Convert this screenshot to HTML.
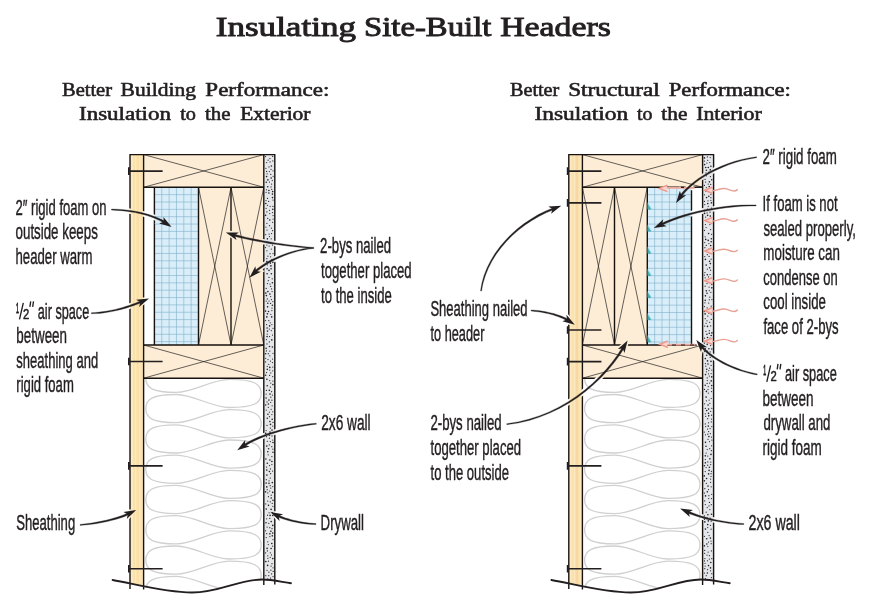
<!DOCTYPE html>
<html><head><meta charset="utf-8"><title>Insulating Site-Built Headers</title>
<style>html,body{margin:0;padding:0;background:#fff}svg{display:block}.lb,.t{opacity:.999}text{font-family:"Liberation Sans",sans-serif;fill:#231f20}.t text{font-family:"Liberation Serif",serif;stroke:#231f20;stroke-width:0.55px}.t .big{stroke-width:0.9px}.lb text{stroke:#231f20;stroke-width:0.45px}</style></head><body>
<svg width="874" height="616" viewBox="0 0 874 616">
<rect width="874" height="616" fill="#fff"/>
<defs><mask id="hm" maskUnits="userSpaceOnUse" x="0" y="0" width="874" height="616"><rect width="874" height="616" fill="#fff"/><path d="M111.5,209.6C135.0,210.0 155.0,216.0 164.9,222.6M91.4,313.2C110.0,313.0 130.0,306.5 141.6,301.5M80.1,524.9C98.0,523.5 118.0,519.0 129.0,513.5M313.7,247.9C285.0,246.0 250.0,240.0 233.4,234.9M313.7,247.9C290.0,250.0 265.0,262.0 255.0,272.0M316.3,423.7C288.0,426.5 258.0,436.0 243.8,445.7M316.0,524.1C300.0,523.5 284.0,519.0 277.4,515.6M531.1,310.5C548.0,311.5 562.0,316.5 568.1,320.4M481.0,291.0C486.0,254.0 518.0,222.0 553.8,208.6M506.8,424.2C560.0,418.0 602.0,383.0 623.5,347.4M756.6,157.2C722.0,162.0 692.0,180.0 680.6,196.5M756.1,205.4C722.0,205.0 685.0,213.0 661.0,224.6M757.2,374.4C732.0,370.0 710.0,357.0 701.3,346.2M743.8,524.1C722.0,523.0 700.0,517.5 687.4,511.7" stroke="#000" stroke-width="5.4" fill="none"/><path d="M171.6,227.0L159.1,223.4L163.7,221.8L163.4,216.9ZM149.0,298.4L139.1,306.9L140.3,302.1L136.1,299.7ZM136.2,510.0L126.8,519.0L127.8,514.2L123.4,512.0ZM225.8,232.5L238.8,232.4L234.8,235.3L236.5,239.9ZM249.4,277.7L255.4,266.2L256.0,271.0L260.9,271.7ZM237.2,450.2L245.2,440.0L245.0,444.9L249.6,446.4ZM270.3,512.0L283.1,514.2L278.7,516.3L279.6,521.1ZM574.8,324.7L562.3,321.3L566.9,319.6L566.5,314.7ZM561.3,205.8L551.1,213.8L552.5,209.1L548.3,206.5ZM627.6,340.5L624.5,353.1L622.7,348.6L617.9,349.1ZM676.0,203.1L679.9,190.7L681.4,195.4L686.3,195.1ZM653.8,228.1L663.3,219.2L662.3,224.0L666.7,226.2ZM696.3,340.0L707.1,347.2L702.2,347.3L701.0,352.1ZM680.1,508.4L693.0,510.0L688.7,512.3L689.8,517.1Z" fill="#000" stroke="#000" stroke-width="3"/></mask></defs>
<clipPath id="clip0"><path d="M112.6,580 C135.0,584 165.0,592.5 192.0,592.5 C220.0,592.5 238.0,579.5 262.0,579.5 C272.0,579.5 282.0,582 291.0,583.2 L291.0,100 L112.6,100 Z"/></clipPath>
<g clip-path="url(#clip0)">
<rect x="130.0" y="154.6" width="13.6" height="445.4" fill="#fdeac3"/>
<rect x="133.0" y="154.6" width="2.0" height="445.4" fill="#fbe1aa"/>
<rect x="136.4" y="154.6" width="2.8" height="445.4" fill="#fbdfa6"/>
<rect x="140.2" y="154.6" width="2.2" height="445.4" fill="#fbe2ad"/>
<rect x="263.8" y="154.6" width="11.0" height="445.4" fill="#e5e7eb"/>
<path d="M272.5,359.1h0M269.4,412.1h0M270.3,501.8h0M266.2,288.4h0M270.8,174.4h0M273.0,576.6h0M266.7,162.6h0M269.5,182.1h0M265.7,358.3h0M268.8,523.3h0M269.3,444.9h0M269.0,277.4h0M271.9,464.6h0M267.9,256.2h0M271.3,330.6h0M271.9,324.6h0M265.5,247.5h0M266.1,430.5h0M266.2,301.1h0M272.8,486.5h0M271.6,233.5h0M269.8,351.1h0M266.5,436.7h0M266.4,339.5h0M272.9,506.3h0M267.8,541.8h0M272.0,435.9h0M266.3,587.3h0M271.4,299.5h0M266.2,410.1h0M268.3,353.7h0M272.8,367.0h0M266.9,223.3h0M272.4,512.6h0M271.1,566.0h0M267.0,570.3h0M268.7,201.4h0M265.8,575.7h0M267.5,515.2h0M270.0,284.0h0M269.8,527.7h0M272.5,245.0h0M269.8,213.5h0M268.3,544.5h0M266.6,171.4h0M265.6,552.9h0M267.9,591.7h0M266.1,394.1h0M271.5,554.9h0M268.2,454.8h0M272.1,405.8h0M270.2,322.8h0M273.0,539.6h0M271.1,409.3h0M270.8,372.9h0M270.2,557.3h0M267.0,230.0h0M267.0,343.9h0M266.5,372.5h0M270.9,570.2h0M273.0,353.3h0M267.8,501.1h0M269.0,166.9h0M271.8,259.6h0M270.3,441.6h0M271.6,573.9h0M269.1,234.0h0M265.6,361.9h0M270.8,383.0h0M270.2,485.7h0M272.6,471.0h0M270.3,552.8h0M272.2,503.4h0M270.4,468.9h0M273.0,582.1h0M272.0,308.0h0M269.7,491.0h0M271.6,184.0h0M271.9,456.6h0M272.7,370.8h0M271.9,400.2h0M267.1,527.0h0M269.6,375.4h0M272.9,381.0h0M269.8,370.1h0M269.6,336.5h0M267.0,425.4h0M272.5,212.5h0M270.7,296.5h0M267.4,242.3h0M269.5,225.7h0M270.4,387.0h0M267.9,558.3h0M267.5,198.4h0M272.9,206.4h0M269.7,380.5h0M266.9,245.0h0M271.9,587.8h0M268.0,359.6h0M270.1,161.9h0M271.2,495.2h0M271.0,186.9h0M270.4,428.1h0M270.6,303.4h0M270.8,488.1h0M270.2,478.1h0M267.4,550.9h0M271.7,189.3h0M269.5,416.7h0M268.3,280.7h0M273.0,567.8h0M268.8,364.3h0M270.1,206.3h0M269.5,210.3h0M273.1,571.4h0M270.7,402.3h0M271.2,238.8h0M267.4,583.2h0M266.1,208.3h0M271.3,249.0h0M266.2,537.6h0M266.1,192.3h0M270.7,286.4h0M267.7,218.4h0M271.6,288.9h0M272.6,546.1h0M267.0,401.9h0M271.6,391.7h0M272.2,278.8h0M272.8,440.0h0M267.2,489.7h0M272.9,449.2h0M272.5,335.1h0M271.8,446.7h0M269.5,465.6h0M267.7,578.8h0M266.9,250.8h0M270.0,253.7h0M272.8,411.8h0M266.7,518.8h0M265.6,320.5h0M269.8,355.8h0M271.9,414.5h0M269.4,438.2h0M272.4,395.1h0M266.6,467.1h0M265.7,234.6h0M266.6,324.5h0M266.4,350.9h0M269.3,329.0h0M266.4,390.4h0M272.7,156.4h0M269.1,246.1h0M271.9,310.5h0M266.9,258.7h0M273.0,170.8h0M268.4,561.2h0M271.4,228.1h0M269.3,171.5h0M269.9,536.6h0M273.0,219.1h0M269.0,480.8h0M273.0,422.4h0M268.4,496.7h0M270.8,314.3h0M267.1,173.8h0M270.8,397.2h0M268.3,407.3h0M269.8,518.4h0M272.9,301.5h0M267.3,264.8h0M266.7,533.7h0M270.6,256.8h0M267.2,366.3h0M272.8,160.9h0M273.0,200.1h0M268.8,575.7h0M267.2,334.0h0M272.6,222.3h0M269.1,588.9h0M266.9,211.9h0M268.9,572.2h0M273.0,328.3h0M265.6,530.8h0M269.9,158.5h0M270.7,584.9h0M268.8,320.7h0M266.3,479.7h0M272.0,528.7h0M272.7,376.5h0M269.5,236.6h0M272.0,563.7h0M267.3,441.3h0M269.1,512.8h0M265.9,227.1h0M269.0,301.0h0M269.3,341.9h0M272.1,291.5h0M272.7,426.1h0M267.3,298.9h0M272.3,180.5h0M267.8,492.9h0M273.0,215.6h0M273.0,253.5h0M266.0,200.5h0M267.4,283.5h0M267.5,205.3h0M265.8,503.9h0M265.9,168.3h0M268.1,160.2h0M265.5,156.5h0M270.6,578.0h0M270.6,473.7h0M273.1,176.3h0M270.5,361.0h0M267.8,555.8h0M271.0,169.3h0M266.4,189.8h0M272.4,362.6h0M272.6,230.7h0" stroke="#262428" stroke-width="1.25" stroke-linecap="round" fill="none"/>
<path d="M268.9,400.1h0M266.9,379.2h0M266.2,509.0h0M270.5,424.4h0M266.9,261.6h0M269.4,435.2h0M273.1,590.1h0M267.7,186.7h0M272.8,525.4h0M271.4,273.7h0M266.3,182.2h0M266.9,475.1h0M267.1,273.7h0M267.1,328.0h0M267.1,268.7h0M267.3,418.2h0M269.9,533.8h0M267.4,238.8h0M272.2,419.2h0M267.3,463.2h0M266.8,470.1h0M266.8,316.9h0M273.0,442.5h0M265.7,433.4h0M271.1,548.5h0M272.3,535.8h0M269.9,421.5h0M266.1,483.1h0M267.8,451.7h0M269.9,294.1h0M267.1,336.6h0M265.6,215.3h0M266.6,176.6h0M270.7,243.0h0M267.6,306.8h0M272.4,194.1h0M268.4,404.0h0M267.1,548.4h0M266.1,348.3h0M269.4,471.5h0M267.2,385.7h0M272.9,384.6h0M268.5,505.3h0M272.8,558.6h0M271.4,166.0h0M269.5,346.5h0M271.1,509.4h0M271.8,339.9h0M269.8,220.0h0M272.5,197.6h0M270.9,531.3h0M265.6,311.1h0M269.6,325.9h0M267.5,331.1h0M265.8,561.6h0M271.2,178.0h0M272.9,262.3h0M269.0,270.4h0M270.0,432.1h0M271.2,521.6h0M271.7,316.9h0M269.8,367.4h0M272.4,347.0h0M267.4,313.8h0M266.8,486.9h0M270.4,263.1h0M269.3,390.3h0M271.8,543.5h0M265.8,203.5h0M272.4,305.2h0M267.9,291.6h0M267.8,303.2h0M273.0,500.3h0M269.9,460.0h0M267.9,179.9h0M265.9,459.0h0M268.5,311.5h0M268.9,190.5h0M269.0,483.3h0M267.3,369.3h0M265.8,293.1h0M265.8,590.3h0M273.0,452.2h0M266.8,446.1h0M272.7,492.4h0M272.8,515.5h0M270.9,265.9h0M267.6,565.4h0M265.6,375.2h0M272.0,430.1h0M266.1,398.0h0M270.0,394.1h0M271.1,268.7h0M266.4,295.6h0M269.8,581.4h0M265.7,405.0h0M265.6,491.8h0M272.7,191.6h0M268.9,193.0h0M272.4,282.7h0M272.8,209.3h0M268.6,448.7h0M266.0,522.7h0M267.9,414.2h0M271.9,461.5h0M271.2,498.0h0M270.1,515.4h0M272.3,482.6h0M272.7,533.1h0M265.6,353.7h0" stroke="#262428" stroke-width="1.65" stroke-linecap="round" fill="none"/>
<rect x="143.6" y="154.6" width="120.2" height="32.7" fill="#fdedd6"/>
<rect x="143.6" y="345.0" width="120.2" height="33.2" fill="#fdedd6"/>
<path d="M145.8,378.3c0,9.3 6.1,14.1 30.5,14.1c17.5,0 35.4,-13 52.9,-13c25.6,0 32,4.8 32,14.1c0,9.3 -6.4,14 -32,14c-17.5,0 -35.4,-13 -52.9,-13c-24.4,0 -30.5,4.8 -30.5,14.1c0,9.3 6.1,14.1 30.5,14.1c17.5,0 35.4,-13 52.9,-13c25.6,0 32,4.8 32,14.1c0,9.3 -6.4,14 -32,14c-17.5,0 -35.4,-13 -52.9,-13c-24.4,0 -30.5,4.8 -30.5,14.1c0,9.3 6.1,14.1 30.5,14.1c17.5,0 35.4,-13 52.9,-13c25.6,0 32,4.8 32,14.1c0,9.3 -6.4,14 -32,14c-17.5,0 -35.4,-13 -52.9,-13c-24.4,0 -30.5,4.8 -30.5,14.1c0,9.3 6.1,14.1 30.5,14.1c17.5,0 35.4,-13 52.9,-13c25.6,0 32,4.8 32,14.1c0,9.3 -6.4,14 -32,14c-17.5,0 -35.4,-13 -52.9,-13c-24.4,0 -30.5,4.8 -30.5,14.1c0,9.3 6.1,14.1 30.5,14.1c17.5,0 35.4,-13 52.9,-13c25.6,0 32,4.8 32,14.1c0,9.3 -6.4,14 -32,14c-17.5,0 -35.4,-13 -52.9,-13c-24.4,0 -30.5,4.8 -30.5,14.1c0,9.3 6.1,14.1 30.5,14.1c17.5,0 35.4,-13 52.9,-13c25.6,0 32,4.8 32,14.1c0,9.3 -6.4,14 -32,14c-17.5,0 -35.4,-13 -52.9,-13c-24.4,0 -30.5,4.8 -30.5,14.1c0,9.3 6.1,14.1 30.5,14.1c17.5,0 35.4,-13 52.9,-13c25.6,0 32,4.8 32,14.1c0,9.3 -6.4,14 -32,14c-17.5,0 -35.4,-13 -52.9,-13c-24.4,0 -30.5,4.8 -30.5,14.1c0,9.3 6.1,14.1 30.5,14.1c17.5,0 35.4,-13 52.9,-13c25.6,0 32,4.8 32,14.1c0,9.3 -6.4,14 -32,14c-17.5,0 -35.4,-13 -52.9,-13c-24.4,0 -30.5,4.8 -30.5,14.1" fill="none" stroke="#d0d0d0" stroke-width="1.3"/>
</g>
<rect x="198.5" y="187.3" width="65.3" height="157.7" fill="#fdedd6"/>
<rect x="154.4" y="187.3" width="44.1" height="157.7" fill="#d9eef9"/>
<path d="M161.75,187.3V345.0M169.10,187.3V345.0M176.45,187.3V345.0M183.80,187.3V345.0M191.15,187.3V345.0M154.4,194.65H198.5M154.4,202.00H198.5M154.4,209.35H198.5M154.4,216.70H198.5M154.4,224.05H198.5M154.4,231.40H198.5M154.4,238.75H198.5M154.4,246.10H198.5M154.4,253.45H198.5M154.4,260.80H198.5M154.4,268.15H198.5M154.4,275.50H198.5M154.4,282.85H198.5M154.4,290.20H198.5M154.4,297.55H198.5M154.4,304.90H198.5M154.4,312.25H198.5M154.4,319.60H198.5M154.4,326.95H198.5M154.4,334.30H198.5M154.4,341.65H198.5" stroke="#7faeca" stroke-width="0.6" fill="none"/>
<path d="M143.6,154.6L263.8,187.3M263.8,154.6L143.6,187.3M143.6,345.0L263.8,378.2M263.8,345.0L143.6,378.2M198.5,187.3L231.0,345.0M231.0,187.3L198.5,345.0M231.0,187.3L263.8,345.0M263.8,187.3L231.0,345.0" stroke="#231f20" stroke-width="0.7" fill="none"/>
<path d="M130.0,154.6V589M143.6,154.6V589.5M263.8,154.6V585M274.8,154.6V584.5M129.4,154.6H275.4M143.6,187.3H263.8M143.6,345.0H263.8M143.6,378.2H263.8M231.0,187.3V345.0M154.4,187.3V345.0M198.5,187.3V345.0" stroke="#17120e" stroke-width="1.4" fill="none" mask="url(#hm)"/>
<path d="M112.6,580 C135.0,584 165.0,592.5 192.0,592.5 C220.0,592.5 238.0,579.5 262.0,579.5 C272.0,579.5 282.0,582 291.0,583.2" stroke="#231f20" stroke-width="1.9" fill="none" stroke-linecap="round"/>
<path d="M128.6,171.1H162.6M128.6,361.5H162.6M128.6,465.9H162.6M128.6,568.7H162.6" stroke="#231f20" stroke-width="1.6" fill="none"/>
<path d="M128.9,167.3V174.9M128.9,357.7V365.3M128.9,462.1V469.7M128.9,564.9V572.5" stroke="#231f20" stroke-width="1.8" fill="none"/>
<clipPath id="clip438"><path d="M551.4,580 C573.8,584 603.8,592.5 630.8,592.5 C658.8,592.5 676.8,579.5 700.8,579.5 C710.8,579.5 720.8,582 729.8,583.2 L729.8,100 L551.4,100 Z"/></clipPath>
<g clip-path="url(#clip438)">
<rect x="568.8" y="154.6" width="13.6" height="445.4" fill="#fdeac3"/>
<rect x="571.3" y="154.6" width="2.8" height="445.4" fill="#fbe2ad"/>
<rect x="575.4" y="154.6" width="3.2" height="445.4" fill="#f7d8a2"/>
<rect x="578.6" y="154.6" width="1.9" height="445.4" fill="#fbe3b3"/>
<rect x="702.6" y="154.6" width="11.0" height="445.4" fill="#e5e7eb"/>
<path d="M707.2,449.6h0M708.7,249.2h0M707.7,418.7h0M711.5,391.6h0M709.7,322.3h0M707.0,283.5h0M705.1,179.4h0M709.6,368.2h0M708.5,489.5h0M707.3,269.0h0M706.2,512.2h0M707.4,156.9h0M705.0,588.7h0M705.1,566.1h0M707.0,320.8h0M711.8,426.6h0M710.2,357.4h0M710.6,345.6h0M711.5,419.0h0M711.0,476.3h0M711.2,398.3h0M708.4,373.8h0M705.6,217.1h0M704.4,201.4h0M708.7,303.1h0M707.8,532.3h0M707.4,251.4h0M705.4,434.8h0M707.1,340.4h0M709.1,287.1h0M706.1,227.6h0M705.0,563.3h0M707.7,527.6h0M708.1,552.0h0M710.6,342.4h0M705.6,182.0h0M708.6,431.6h0M711.4,577.5h0M705.3,459.5h0M705.1,236.8h0M711.9,440.1h0M709.3,376.0h0M709.3,330.7h0M711.2,314.5h0M710.4,525.3h0M711.2,588.3h0M711.4,191.6h0M709.6,308.9h0M710.0,212.2h0M708.0,200.8h0M710.8,462.0h0M708.5,276.9h0M704.8,242.6h0M711.5,388.1h0M711.4,550.9h0M708.0,389.5h0M709.9,224.5h0M707.8,456.0h0M709.0,505.9h0M705.3,423.9h0M707.1,307.8h0M707.2,377.9h0M710.6,482.3h0M708.5,422.8h0M710.6,270.2h0M710.9,200.3h0M711.8,585.0h0M704.8,568.7h0M706.4,400.8h0M706.3,187.5h0M706.9,163.1h0M711.5,498.5h0M707.7,220.8h0M706.0,172.9h0M704.9,247.7h0M707.1,517.9h0M704.4,230.4h0M711.4,471.3h0M710.9,292.3h0M704.4,536.3h0M705.1,286.2h0M707.7,160.3h0M710.7,325.9h0M709.1,535.5h0M711.3,581.5h0M705.4,224.5h0M711.1,373.6h0M706.1,453.1h0M709.9,403.3h0M704.7,550.4h0M705.3,413.8h0M706.4,175.8h0M707.5,209.2h0M704.4,306.5h0M711.4,450.7h0M705.2,471.5h0M710.1,274.5h0M709.1,256.4h0M710.6,570.8h0M710.3,433.6h0M704.4,515.9h0M705.3,408.4h0M711.8,558.7h0M704.7,500.9h0M704.3,275.0h0M708.2,206.3h0M705.9,331.3h0M707.3,310.2h0M709.8,297.2h0M704.4,185.4h0M708.5,542.1h0M710.7,279.8h0M709.5,502.4h0M704.4,194.8h0M711.1,529.2h0M711.5,208.0h0M711.2,543.7h0M710.9,197.7h0M710.9,253.4h0M710.6,229.6h0M708.3,393.1h0M710.7,411.3h0M707.0,555.1h0M707.8,316.1h0M709.4,555.7h0M706.2,575.7h0M704.5,560.9h0M708.9,243.6h0M706.5,371.8h0M706.1,323.3h0M709.9,509.6h0M706.3,483.4h0M709.8,162.6h0M710.9,194.5h0M707.6,569.7h0M710.4,176.7h0M704.7,326.0h0M709.6,383.1h0M704.8,204.5h0M711.2,486.8h0M709.2,290.5h0M705.8,366.2h0M704.9,272.6h0M708.9,495.7h0M704.6,338.2h0M710.6,479.0h0M708.2,386.5h0M704.8,488.7h0M710.1,351.9h0M709.3,559.1h0M711.2,306.2h0M707.7,465.2h0M710.2,157.5h0M711.6,445.8h0M707.6,429.1h0M710.1,428.5h0M707.3,380.6h0M705.1,277.8h0M709.7,448.7h0M709.1,400.0h0M711.7,494.3h0M711.2,521.2h0M711.8,573.7h0M706.1,467.5h0M710.1,518.2h0M708.7,498.6h0M708.5,583.6h0M707.8,546.6h0M705.3,504.6h0M711.0,541.1h0M704.4,493.1h0M711.1,365.4h0M707.8,461.9h0M704.5,519.3h0M704.4,389.4h0M711.9,299.5h0M707.1,212.9h0M705.7,426.5h0M711.8,370.0h0M707.2,507.6h0M708.4,580.4h0M709.5,441.6h0M704.6,351.5h0M710.7,184.4h0M708.0,439.3h0M705.7,416.3h0M711.8,249.7h0M711.5,437.0h0M706.3,245.4h0M707.3,254.7h0M704.4,343.2h0M708.2,184.0h0M705.2,318.7h0M710.1,338.2h0M711.1,259.2h0M711.6,188.6h0M704.6,403.8h0M709.7,354.8h0M704.9,302.8h0M704.4,573.1h0M705.4,363.6h0M707.8,434.2h0M705.4,578.5h0M707.1,383.4h0M711.8,408.3h0M711.6,234.3h0M704.8,256.6h0M711.3,319.4h0M711.3,504.7h0M704.4,161.0h0M704.3,432.1h0M708.8,370.5h0M704.6,553.3h0M711.3,421.9h0M709.3,299.8h0M711.1,473.7h0M711.5,415.2h0M704.9,558.5h0M707.5,560.8h0M710.7,464.6h0" stroke="#262428" stroke-width="1.25" stroke-linecap="round" fill="none"/>
<path d="M705.7,239.4h0M705.1,313.9h0M706.1,191.2h0M706.2,281.2h0M708.8,196.2h0M710.3,169.9h0M708.9,436.6h0M711.5,514.2h0M704.4,480.8h0M708.3,520.9h0M710.8,562.5h0M708.6,473.9h0M708.0,364.0h0M706.7,538.7h0M705.3,358.6h0M711.2,380.9h0M708.0,486.1h0M710.4,263.6h0M705.2,300.3h0M707.2,344.3h0M705.5,495.9h0M708.1,405.0h0M705.5,442.3h0M704.8,521.9h0M709.2,186.6h0M706.8,544.0h0M705.4,295.8h0M706.3,290.8h0M708.6,409.1h0M711.2,335.5h0M709.0,281.7h0M704.6,213.4h0M706.2,265.1h0M708.9,348.7h0M711.4,202.8h0M708.3,167.5h0M705.6,583.9h0M707.2,351.3h0M705.7,167.5h0M708.5,586.4h0M705.2,385.2h0M706.6,478.5h0M706.6,197.6h0M704.4,465.7h0M707.5,326.4h0M711.2,219.9h0M709.0,172.2h0M706.7,355.2h0M711.7,284.5h0M706.1,397.1h0M707.0,293.2h0M709.4,181.8h0M707.5,337.5h0M707.6,589.7h0M711.9,332.9h0M711.7,179.7h0M708.6,233.5h0M705.4,529.1h0M711.8,287.8h0M707.5,360.9h0M710.3,216.1h0M706.4,170.2h0M709.6,261.3h0M711.7,385.5h0M708.8,313.0h0M706.7,369.2h0M708.5,565.6h0M709.3,333.2h0M707.3,491.8h0M707.7,524.6h0M711.0,454.4h0M710.9,166.2h0M705.3,455.8h0M706.0,446.2h0M710.4,538.1h0M705.5,374.6h0M704.3,475.9h0M708.7,415.8h0M708.2,240.4h0M707.3,274.7h0M704.4,157.9h0M709.6,267.7h0M709.9,458.8h0M711.4,238.7h0M705.4,259.4h0M710.5,567.9h0M708.3,426.1h0M711.8,349.0h0M710.0,591.7h0M706.9,334.2h0M706.7,410.6h0M711.2,241.7h0M709.1,470.4h0M707.4,573.0h0M707.9,514.7h0M704.4,545.8h0M707.6,215.3h0M704.6,164.6h0M705.2,348.8h0M705.3,462.8h0M707.8,203.6h0M710.7,245.6h0M706.4,391.4h0M711.0,361.4h0M711.7,376.9h0M704.4,311.4h0M708.5,413.3h0M709.4,467.2h0M709.0,189.5h0M704.4,210.6h0" stroke="#262428" stroke-width="1.65" stroke-linecap="round" fill="none"/>
<rect x="582.4" y="154.6" width="120.2" height="32.7" fill="#fdedd6"/>
<rect x="582.4" y="345.0" width="120.2" height="33.2" fill="#fdedd6"/>
<path d="M584.6,378.3c0,9.3 6.1,14.1 30.5,14.1c17.5,0 35.4,-13 52.9,-13c25.6,0 32,4.8 32,14.1c0,9.3 -6.4,14 -32,14c-17.5,0 -35.4,-13 -52.9,-13c-24.4,0 -30.5,4.8 -30.5,14.1c0,9.3 6.1,14.1 30.5,14.1c17.5,0 35.4,-13 52.9,-13c25.6,0 32,4.8 32,14.1c0,9.3 -6.4,14 -32,14c-17.5,0 -35.4,-13 -52.9,-13c-24.4,0 -30.5,4.8 -30.5,14.1c0,9.3 6.1,14.1 30.5,14.1c17.5,0 35.4,-13 52.9,-13c25.6,0 32,4.8 32,14.1c0,9.3 -6.4,14 -32,14c-17.5,0 -35.4,-13 -52.9,-13c-24.4,0 -30.5,4.8 -30.5,14.1c0,9.3 6.1,14.1 30.5,14.1c17.5,0 35.4,-13 52.9,-13c25.6,0 32,4.8 32,14.1c0,9.3 -6.4,14 -32,14c-17.5,0 -35.4,-13 -52.9,-13c-24.4,0 -30.5,4.8 -30.5,14.1c0,9.3 6.1,14.1 30.5,14.1c17.5,0 35.4,-13 52.9,-13c25.6,0 32,4.8 32,14.1c0,9.3 -6.4,14 -32,14c-17.5,0 -35.4,-13 -52.9,-13c-24.4,0 -30.5,4.8 -30.5,14.1c0,9.3 6.1,14.1 30.5,14.1c17.5,0 35.4,-13 52.9,-13c25.6,0 32,4.8 32,14.1c0,9.3 -6.4,14 -32,14c-17.5,0 -35.4,-13 -52.9,-13c-24.4,0 -30.5,4.8 -30.5,14.1c0,9.3 6.1,14.1 30.5,14.1c17.5,0 35.4,-13 52.9,-13c25.6,0 32,4.8 32,14.1c0,9.3 -6.4,14 -32,14c-17.5,0 -35.4,-13 -52.9,-13c-24.4,0 -30.5,4.8 -30.5,14.1c0,9.3 6.1,14.1 30.5,14.1c17.5,0 35.4,-13 52.9,-13c25.6,0 32,4.8 32,14.1c0,9.3 -6.4,14 -32,14c-17.5,0 -35.4,-13 -52.9,-13c-24.4,0 -30.5,4.8 -30.5,14.1" fill="none" stroke="#d0d0d0" stroke-width="1.3"/>
</g>
<rect x="582.4" y="187.3" width="64.9" height="157.7" fill="#fdedd6"/>
<rect x="647.3" y="187.3" width="44.2" height="157.7" fill="#d9eef9"/>
<path d="M654.67,187.3V345.0M662.03,187.3V345.0M669.40,187.3V345.0M676.77,187.3V345.0M684.13,187.3V345.0M647.3,194.67H691.5M647.3,202.03H691.5M647.3,209.40H691.5M647.3,216.77H691.5M647.3,224.13H691.5M647.3,231.50H691.5M647.3,238.87H691.5M647.3,246.23H691.5M647.3,253.60H691.5M647.3,260.97H691.5M647.3,268.33H691.5M647.3,275.70H691.5M647.3,283.07H691.5M647.3,290.43H691.5M647.3,297.80H691.5M647.3,305.17H691.5M647.3,312.53H691.5M647.3,319.90H691.5M647.3,327.27H691.5M647.3,334.63H691.5M647.3,342.00H691.5" stroke="#7faeca" stroke-width="0.6" fill="none"/>
<path d="M582.4,154.6L702.6,187.3M702.6,154.6L582.4,187.3M582.4,345.0L702.6,378.2M702.6,345.0L582.4,378.2M582.4,187.3L614.5,345.0M614.5,187.3L582.4,345.0M614.5,187.3L647.3,345.0M647.3,187.3L614.5,345.0" stroke="#231f20" stroke-width="0.7" fill="none"/>
<path d="M568.8,154.6V589M582.4,154.6V589.5M702.6,154.6V585M713.6,154.6V584.5M568.2,154.6H714.2M582.4,187.3H702.6M582.4,345.0H702.6M582.4,378.2H702.6M614.5,187.3V345.0M647.3,187.3V345.0M691.5,190.3V345.0" stroke="#17120e" stroke-width="1.4" fill="none" mask="url(#hm)"/>
<path d="M551.4,580 C573.8,584 603.8,592.5 630.8,592.5 C658.8,592.5 676.8,579.5 700.8,579.5 C710.8,579.5 720.8,582 729.8,583.2" stroke="#231f20" stroke-width="1.9" fill="none" stroke-linecap="round"/>
<path d="M567.4,171.1H601.4M567.4,202.9H601.4M567.4,330.0H601.4M567.4,361.6H601.4M567.4,465.9H601.4M567.4,568.7H601.4" stroke="#231f20" stroke-width="1.6" fill="none"/>
<path d="M567.7,167.3V174.9M567.7,199.1V206.7M567.7,326.2V333.8M567.7,357.8V365.4M567.7,462.1V469.7M567.7,564.9V572.5" stroke="#231f20" stroke-width="1.8" fill="none"/>
<g class="lb">
<text x="15.62" y="214.7" font-size="22.5" textLength="90.94" lengthAdjust="spacingAndGlyphs">2&#8243; rigid foam on</text>
<text x="15.55" y="239.3" font-size="22.5" textLength="82.28" lengthAdjust="spacingAndGlyphs">outside keeps</text>
<text x="15.54" y="263.9" font-size="22.5" textLength="76.92" lengthAdjust="spacingAndGlyphs">header warm</text>
<text x="37.79" y="318.6" font-size="22.5" textLength="51.41" lengthAdjust="spacingAndGlyphs">air space</text>
<text x="16.32" y="343.2" font-size="22.5" textLength="50.69" lengthAdjust="spacingAndGlyphs">between</text>
<text x="16.37" y="367.8" font-size="22.5" textLength="81.77" lengthAdjust="spacingAndGlyphs">sheathing and</text>
<text x="16.34" y="392.4" font-size="22.5" textLength="57.46" lengthAdjust="spacingAndGlyphs">rigid foam</text>
<text x="16.13" y="530.0" font-size="22.5" textLength="59.09" lengthAdjust="spacingAndGlyphs">Sheathing</text>
<text x="320.10" y="253.2" font-size="22.5" textLength="71.02" lengthAdjust="spacingAndGlyphs">2-bys nailed</text>
<text x="321.09" y="278.0" font-size="22.5" textLength="90.55" lengthAdjust="spacingAndGlyphs">together placed</text>
<text x="321.09" y="302.7" font-size="22.5" textLength="70.70" lengthAdjust="spacingAndGlyphs">to the inside</text>
<text x="321.20" y="430.0" font-size="22.5" textLength="49.42" lengthAdjust="spacingAndGlyphs">2x6 wall</text>
<text x="320.60" y="530.3" font-size="22.5" textLength="43.41" lengthAdjust="spacingAndGlyphs">Drywall</text>
<text x="430.42" y="316.2" font-size="22.5" textLength="97.11" lengthAdjust="spacingAndGlyphs">Sheathing nailed</text>
<text x="430.47" y="340.8" font-size="22.5" textLength="53.95" lengthAdjust="spacingAndGlyphs">to header</text>
<text x="430.43" y="430.3" font-size="22.5" textLength="71.19" lengthAdjust="spacingAndGlyphs">2-bys nailed</text>
<text x="430.48" y="455.1" font-size="22.5" textLength="90.63" lengthAdjust="spacingAndGlyphs">together placed</text>
<text x="430.50" y="479.7" font-size="22.5" textLength="78.50" lengthAdjust="spacingAndGlyphs">to the outside</text>
<text x="762.55" y="163.9" font-size="22.5" textLength="74.29" lengthAdjust="spacingAndGlyphs">2&#8243; rigid foam</text>
<text x="762.57" y="211.0" font-size="22.5" textLength="75.03" lengthAdjust="spacingAndGlyphs">If foam is not</text>
<text x="763.39" y="235.6" font-size="22.5" textLength="92.54" lengthAdjust="spacingAndGlyphs">sealed properly,</text>
<text x="763.35" y="260.2" font-size="22.5" textLength="76.53" lengthAdjust="spacingAndGlyphs">moisture can</text>
<text x="763.35" y="284.8" font-size="22.5" textLength="74.38" lengthAdjust="spacingAndGlyphs">condense on</text>
<text x="763.34" y="309.4" font-size="22.5" textLength="62.57" lengthAdjust="spacingAndGlyphs">cool inside</text>
<text x="763.40" y="334.0" font-size="22.5" textLength="75.21" lengthAdjust="spacingAndGlyphs">face of 2-bys</text>
<text x="785.00" y="381.1" font-size="22.5" textLength="51.80" lengthAdjust="spacingAndGlyphs">air space</text>
<text x="762.39" y="405.6" font-size="22.5" textLength="51.28" lengthAdjust="spacingAndGlyphs">between</text>
<text x="763.45" y="430.1" font-size="22.5" textLength="66.98" lengthAdjust="spacingAndGlyphs">drywall and</text>
<text x="762.45" y="454.7" font-size="22.5" textLength="59.27" lengthAdjust="spacingAndGlyphs">rigid foam</text>
<text x="748.62" y="530.4" font-size="22.5" textLength="51.25" lengthAdjust="spacingAndGlyphs">2x6 wall</text>
<text transform="translate(15.90,312.6) scale(.343,1)" font-size="15.4" style="stroke-width:.9px">1</text>
<text transform="translate(23.10,318.6) scale(.81,1)" font-size="13.9" style="stroke-width:.5px">2</text>
<path d="M19.5,319.4L23.3,302.9M30.7,301.4l-.8,5.5M33.5,301.4l-.8,5.5" stroke="#231f20" stroke-width="1.35" fill="none"/>
<text transform="translate(763.20,375.1) scale(.343,1)" font-size="15.4" style="stroke-width:.9px">1</text>
<text transform="translate(770.40,381.1) scale(.81,1)" font-size="13.9" style="stroke-width:.5px">2</text>
<path d="M766.8,381.9L770.6,365.4M778.0,363.9l-.8,5.5M780.8,363.9l-.8,5.5" stroke="#231f20" stroke-width="1.35" fill="none"/>
</g>
<g class="t">
<text x="215.78" y="35.9" font-size="27.6" textLength="140.22" lengthAdjust="spacingAndGlyphs" class="big">Insulating</text>
<text x="363.96" y="35.9" font-size="27.6" textLength="127.44" lengthAdjust="spacingAndGlyphs" class="big">Site-Built</text>
<text x="500.18" y="35.9" font-size="27.6" textLength="110.64" lengthAdjust="spacingAndGlyphs" class="big">Headers</text>
<text x="62.00" y="95.8" font-size="18" textLength="50.00" lengthAdjust="spacingAndGlyphs">Better</text>
<text x="120.64" y="95.8" font-size="18" textLength="75.36" lengthAdjust="spacingAndGlyphs">Building</text>
<text x="205.35" y="95.8" font-size="18" textLength="123.97" lengthAdjust="spacingAndGlyphs">Performance:</text>
<text x="78.99" y="119.6" font-size="18" textLength="92.01" lengthAdjust="spacingAndGlyphs">Insulation</text>
<text x="180.25" y="119.6" font-size="18" textLength="15.75" lengthAdjust="spacingAndGlyphs">to</text>
<text x="205.00" y="119.6" font-size="18" textLength="25.49" lengthAdjust="spacingAndGlyphs">the</text>
<text x="240.16" y="119.6" font-size="18" textLength="70.36" lengthAdjust="spacingAndGlyphs">Exterior</text>
<text x="510.00" y="95.8" font-size="18" textLength="49.30" lengthAdjust="spacingAndGlyphs">Better</text>
<text x="568.21" y="95.8" font-size="18" textLength="91.52" lengthAdjust="spacingAndGlyphs">Structural</text>
<text x="668.76" y="95.8" font-size="18" textLength="122.17" lengthAdjust="spacingAndGlyphs">Performance:</text>
<text x="534.48" y="119.6" font-size="18" textLength="93.73" lengthAdjust="spacingAndGlyphs">Insulation</text>
<text x="637.00" y="119.6" font-size="18" textLength="15.53" lengthAdjust="spacingAndGlyphs">to</text>
<text x="661.33" y="119.6" font-size="18" textLength="26.02" lengthAdjust="spacingAndGlyphs">the</text>
<text x="696.18" y="119.6" font-size="18" textLength="65.54" lengthAdjust="spacingAndGlyphs">Interior</text>
</g>
<path d="M737.3,189.6c-1.2,1 -2.6,1.5 -4,1.3c-3,-0.4 -5.5,-2.2 -9,-2.4c-4.5,-0.2 -7.5,2.2 -13,2.2M737.3,219.9c-1.2,1 -2.6,1.5 -4,1.3c-3,-0.4 -5.5,-2.2 -9,-2.4c-4.5,-0.2 -7.5,2.2 -13,2.2M737.3,250.3c-1.2,1 -2.6,1.5 -4,1.3c-3,-0.4 -5.5,-2.2 -9,-2.4c-4.5,-0.2 -7.5,2.2 -13,2.2M737.3,280.0c-1.2,1 -2.6,1.5 -4,1.3c-3,-0.4 -5.5,-2.2 -9,-2.4c-4.5,-0.2 -7.5,2.2 -13,2.2M737.3,310.1c-1.2,1 -2.6,1.5 -4,1.3c-3,-0.4 -5.5,-2.2 -9,-2.4c-4.5,-0.2 -7.5,2.2 -13,2.2M737.3,340.5c-1.2,1 -2.6,1.5 -4,1.3c-3,-0.4 -5.5,-2.2 -9,-2.4c-4.5,-0.2 -7.5,2.2 -13,2.2" fill="none" stroke="#e8a193" stroke-width="1.4" stroke-linecap="round"/>
<path d="M712,187.3l-7.3,3l7.3,3M712,217.6l-7.3,3l7.3,3M712,248.0l-7.3,3l7.3,3M712,277.7l-7.3,3l7.3,3M712,307.8l-7.3,3l7.3,3M712,338.2l-7.3,3l7.3,3" fill="#fbd5cd" stroke="#ee9a8c" stroke-width="1.5" stroke-linejoin="miter" stroke-linecap="round"/>
<path d="M666,187.9H694.5M666.5,344.6H695.5" fill="none" stroke="#efa498" stroke-width="1.6"/>
<path d="M681,187.3h3M696,187.3h6M672,345h4M681,345h4M690,345h4" fill="none" stroke="#231f20" stroke-width="1.2"/>
<path d="M666.8,185.4l-7.5,3l7.5,3M667.3,341.2l-7.5,3l7.5,3" fill="#fbd5cd" stroke="#ee9a8c" stroke-width="1.5" stroke-linecap="round"/>
<path d="M647.6,202.3l4.6,6.9h-4.6zM647.6,224.5l4.6,6.9h-4.6zM647.6,246.6l4.6,6.9h-4.6zM647.6,268.8l4.6,6.9h-4.6zM647.6,290.9l4.6,6.9h-4.6zM647.6,313.0l4.6,6.9h-4.6zM647.6,335.2l4.6,6.9h-4.6z" fill="#8fd9ea"/>
<path d="M648.1,204.5l2.9,4.9h-2.9zM648.1,226.7l2.9,4.9h-2.9zM648.1,248.8l2.9,4.9h-2.9zM648.1,271.0l2.9,4.9h-2.9zM648.1,293.1l2.9,4.9h-2.9zM648.1,315.2l2.9,4.9h-2.9zM648.1,337.4l2.9,4.9h-2.9z" fill="#3fa9ac"/>
<path d="M111.5,210.1L116.5,210.4L121.3,210.7L126.0,211.2L130.5,211.9L134.9,212.6L139.1,213.5L143.1,214.5L146.9,215.6L150.5,216.8L153.8,218.0L156.9,219.3L159.7,220.6L162.2,222.0L164.4,223.4L165.5,221.7L163.1,220.3L160.5,219.0L157.6,217.7L154.4,216.4L151.0,215.2L147.4,214.1L143.5,213.0L139.4,212.1L135.2,211.2L130.7,210.5L126.1,209.9L121.4,209.5L116.5,209.2L111.5,209.1ZM91.4,313.7L95.4,313.6L99.5,313.4L103.5,312.9L107.6,312.3L111.6,311.6L115.5,310.8L119.3,309.9L123.1,308.9L126.7,307.9L130.1,306.8L133.4,305.7L136.5,304.6L139.4,303.5L142.0,302.5L141.2,300.6L138.7,301.7L135.8,302.9L132.8,304.0L129.6,305.2L126.2,306.3L122.6,307.4L118.9,308.4L115.2,309.4L111.3,310.2L107.3,311.0L103.4,311.6L99.4,312.1L95.4,312.5L91.4,312.7ZM80.1,525.4L84.0,525.1L87.9,524.7L91.9,524.2L95.8,523.7L99.7,523.0L103.6,522.3L107.3,521.5L111.0,520.6L114.5,519.7L117.9,518.8L121.1,517.8L124.1,516.7L126.9,515.6L129.5,514.4L128.6,512.6L126.1,513.8L123.4,514.9L120.5,516.0L117.4,517.1L114.1,518.1L110.6,519.1L107.0,520.0L103.2,520.8L99.4,521.6L95.6,522.3L91.7,523.0L87.8,523.5L83.9,524.0L80.1,524.4ZM313.7,247.4L307.5,246.9L301.1,246.2L294.7,245.5L288.2,244.7L281.8,243.8L275.4,242.9L269.1,241.8L263.1,240.8L257.3,239.6L251.8,238.5L246.6,237.4L241.8,236.2L237.5,235.0L233.7,233.9L233.1,235.8L237.0,236.9L241.4,238.0L246.2,239.1L251.4,240.2L257.0,241.3L262.8,242.3L268.9,243.4L275.2,244.3L281.6,245.2L288.0,246.1L294.6,246.8L301.0,247.5L307.4,248.0L313.7,248.4ZM313.7,247.4L308.5,247.9L303.4,248.8L298.3,249.9L293.3,251.2L288.3,252.7L283.5,254.4L278.9,256.3L274.5,258.3L270.3,260.3L266.4,262.5L262.9,264.7L259.6,266.9L256.8,269.1L254.3,271.3L255.7,272.7L258.0,270.6L260.7,268.4L263.9,266.2L267.3,264.0L271.1,261.8L275.2,259.7L279.5,257.7L284.1,255.8L288.8,254.1L293.6,252.5L298.6,251.1L303.6,250.0L308.7,249.1L313.7,248.4ZM316.2,423.2L310.1,423.8L304.0,424.7L297.9,425.7L291.9,426.9L286.0,428.3L280.2,429.8L274.5,431.4L269.1,433.1L264.0,434.9L259.1,436.8L254.6,438.7L250.4,440.7L246.6,442.8L243.2,444.9L244.4,446.5L247.6,444.5L251.2,442.4L255.3,440.4L259.8,438.4L264.6,436.5L269.6,434.6L275.0,432.9L280.6,431.2L286.3,429.7L292.2,428.3L298.2,427.0L304.2,425.9L310.3,425.0L316.4,424.2ZM316.0,523.6L312.6,523.3L309.2,523.0L305.9,522.6L302.6,522.1L299.4,521.5L296.3,520.8L293.4,520.2L290.5,519.4L287.9,518.6L285.4,517.9L283.2,517.1L281.1,516.3L279.4,515.5L277.9,514.7L277.0,516.5L278.6,517.3L280.4,518.0L282.6,518.8L284.9,519.5L287.4,520.3L290.1,521.0L293.0,521.7L296.0,522.3L299.2,522.9L302.4,523.4L305.7,523.9L309.1,524.2L312.5,524.5L316.0,524.6ZM531.1,311.0L534.6,311.4L538.1,311.8L541.4,312.3L544.6,312.9L547.7,313.6L550.6,314.3L553.4,315.1L556.0,315.9L558.5,316.8L560.7,317.7L562.8,318.6L564.6,319.5L566.2,320.4L567.5,321.2L568.6,319.5L567.1,318.7L565.4,317.8L563.5,317.0L561.4,316.1L559.0,315.2L556.5,314.4L553.9,313.6L551.0,312.9L548.0,312.2L544.9,311.6L541.6,311.0L538.2,310.5L534.7,310.2L531.1,310.0ZM481.5,291.1L483.0,283.3L485.3,275.7L488.3,268.3L491.9,261.2L496.2,254.3L501.1,247.7L506.4,241.5L512.2,235.6L518.5,230.1L525.1,225.0L532.0,220.4L539.2,216.3L546.6,212.6L554.2,209.5L553.5,207.7L545.8,210.9L538.3,214.6L531.1,218.9L524.1,223.6L517.4,228.8L511.1,234.4L505.3,240.4L499.9,246.8L495.0,253.5L490.8,260.5L487.1,267.8L484.1,275.3L481.9,283.0L480.5,290.9ZM506.9,424.7L518.1,423.0L529.1,420.5L539.6,417.1L549.7,413.1L559.4,408.4L568.7,403.2L577.5,397.5L585.8,391.2L593.6,384.6L600.9,377.7L607.6,370.5L613.8,363.1L619.4,355.5L624.3,347.9L622.6,346.8L617.8,354.4L612.3,361.9L606.3,369.3L599.6,376.5L592.5,383.4L584.8,390.0L576.6,396.2L567.9,401.9L558.8,407.2L549.2,411.9L539.1,415.9L528.7,419.3L517.9,421.9L506.7,423.7ZM756.5,156.7L749.1,157.9L741.9,159.4L734.9,161.3L728.2,163.6L721.7,166.1L715.4,168.8L709.5,171.8L704.0,174.9L698.8,178.2L694.1,181.7L689.7,185.2L685.9,188.7L682.5,192.3L679.7,196.0L681.4,197.1L684.0,193.6L687.2,190.1L690.9,186.5L695.1,183.0L699.8,179.6L704.8,176.3L710.3,173.1L716.1,170.2L722.2,167.4L728.6,164.8L735.3,162.6L742.2,160.6L749.4,159.0L756.7,157.7ZM756.1,204.9L748.7,204.9L741.3,205.1L733.9,205.6L726.5,206.3L719.1,207.3L711.8,208.4L704.6,209.7L697.6,211.3L690.7,213.0L684.1,214.8L677.8,216.8L671.7,219.0L666.0,221.3L660.6,223.7L661.4,225.5L666.7,223.1L672.4,220.7L678.4,218.5L684.6,216.5L691.2,214.6L698.0,212.8L704.9,211.3L712.0,209.9L719.3,208.7L726.6,207.7L734.0,206.9L741.4,206.3L748.8,206.0L756.1,205.9ZM757.3,373.9L752.0,372.8L746.8,371.4L741.7,369.9L736.9,368.1L732.2,366.2L727.7,364.2L723.4,362.0L719.4,359.8L715.7,357.4L712.3,355.0L709.2,352.7L706.5,350.3L704.1,347.9L702.1,345.6L700.5,346.9L702.7,349.2L705.2,351.6L708.1,354.1L711.3,356.5L714.8,358.8L718.6,361.1L722.7,363.4L727.0,365.5L731.6,367.5L736.4,369.4L741.3,371.1L746.5,372.6L751.7,373.9L757.1,374.9ZM743.8,523.6L739.2,523.2L734.5,522.8L729.9,522.2L725.4,521.5L720.9,520.7L716.6,519.9L712.3,518.9L708.2,517.9L704.3,516.8L700.5,515.7L697.0,514.5L693.7,513.3L690.6,512.1L687.8,510.8L687.0,512.6L689.9,513.9L693.0,515.0L696.4,516.2L700.0,517.3L703.8,518.4L707.8,519.5L712.0,520.4L716.3,521.3L720.7,522.1L725.2,522.8L729.8,523.5L734.4,524.0L739.1,524.4L743.8,524.6Z" fill="#231f20" stroke="#231f20" stroke-width="0.3" stroke-linejoin="round"/>
<path d="M171.6,227.0L159.1,223.4L163.7,221.8L163.4,216.9ZM149.0,298.4L139.1,306.9L140.3,302.1L136.1,299.7ZM136.2,510.0L126.8,519.0L127.8,514.2L123.4,512.0ZM225.8,232.5L238.8,232.4L234.8,235.3L236.5,239.9ZM249.4,277.7L255.4,266.2L256.0,271.0L260.9,271.7ZM237.2,450.2L245.2,440.0L245.0,444.9L249.6,446.4ZM270.3,512.0L283.1,514.2L278.7,516.3L279.6,521.1ZM574.8,324.7L562.3,321.3L566.9,319.6L566.5,314.7ZM561.3,205.8L551.1,213.8L552.5,209.1L548.3,206.5ZM627.6,340.5L624.5,353.1L622.7,348.6L617.9,349.1ZM676.0,203.1L679.9,190.7L681.4,195.4L686.3,195.1ZM653.8,228.1L663.3,219.2L662.3,224.0L666.7,226.2ZM696.3,340.0L707.1,347.2L702.2,347.3L701.0,352.1ZM680.1,508.4L693.0,510.0L688.7,512.3L689.8,517.1Z" fill="#231f20"/>
</svg></body></html>
